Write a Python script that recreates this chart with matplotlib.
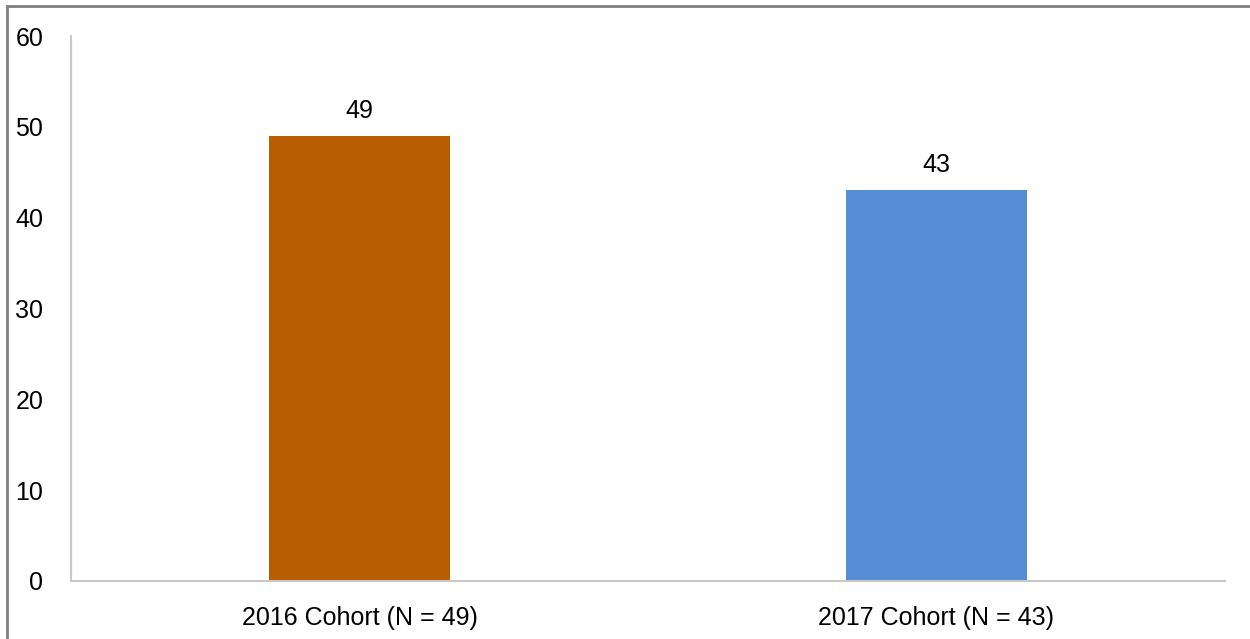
import matplotlib
matplotlib.use('Agg')
import matplotlib.pyplot as plt
from matplotlib.patches import Rectangle

categories = ['2016 Cohort (N = 49)', '2017 Cohort (N = 43)']
values = [49, 43]
colors = ['#B95E00', '#558ED5']
yticks = [0, 10, 20, 30, 40, 50, 60]

plt.rcParams['font.family'] = ['Liberation Sans', 'DejaVu Sans']

W, H = 1250, 639
fig = plt.figure(figsize=(W / 100, H / 100), dpi=100)
ax = fig.add_axes([71 / W, 1 - 581 / H, (1225 - 71) / W, (581 - 36) / H])

x = list(range(len(categories)))
bars = ax.bar(x, values, width=0.314, color=colors, zorder=2)
for xi, v in zip(x, values):
    ax.annotate(str(v), xy=(xi, v), xytext=(0, 9.5), textcoords='offset points',
                ha='center', va='bottom', fontsize=18, color='#000000')

ax.set_xlim(-0.5, len(categories) - 0.5)
ax.set_ylim(0, 60)
ax.set_yticks(yticks)
ax.set_xticks(x)
ax.set_xticklabels(categories, fontsize=18)
ax.tick_params(axis='y', labelsize=18, length=0, pad=20)
ax.tick_params(axis='x', length=0, pad=18)
for s in ['top', 'right']:
    ax.spines[s].set_visible(False)
for s in ['left', 'bottom']:
    ax.spines[s].set_color('#C8C8C8')
    ax.spines[s].set_linewidth(1.5)

# outer border of the chart area
fig.patches.append(Rectangle((7 / W, -0.01), 1, 1 - 6 / H + 0.01,
                             transform=fig.transFigure, fill=False,
                             edgecolor='#7F7F7F', linewidth=2))

fig.savefig('out.png', dpi=100, facecolor='white')
